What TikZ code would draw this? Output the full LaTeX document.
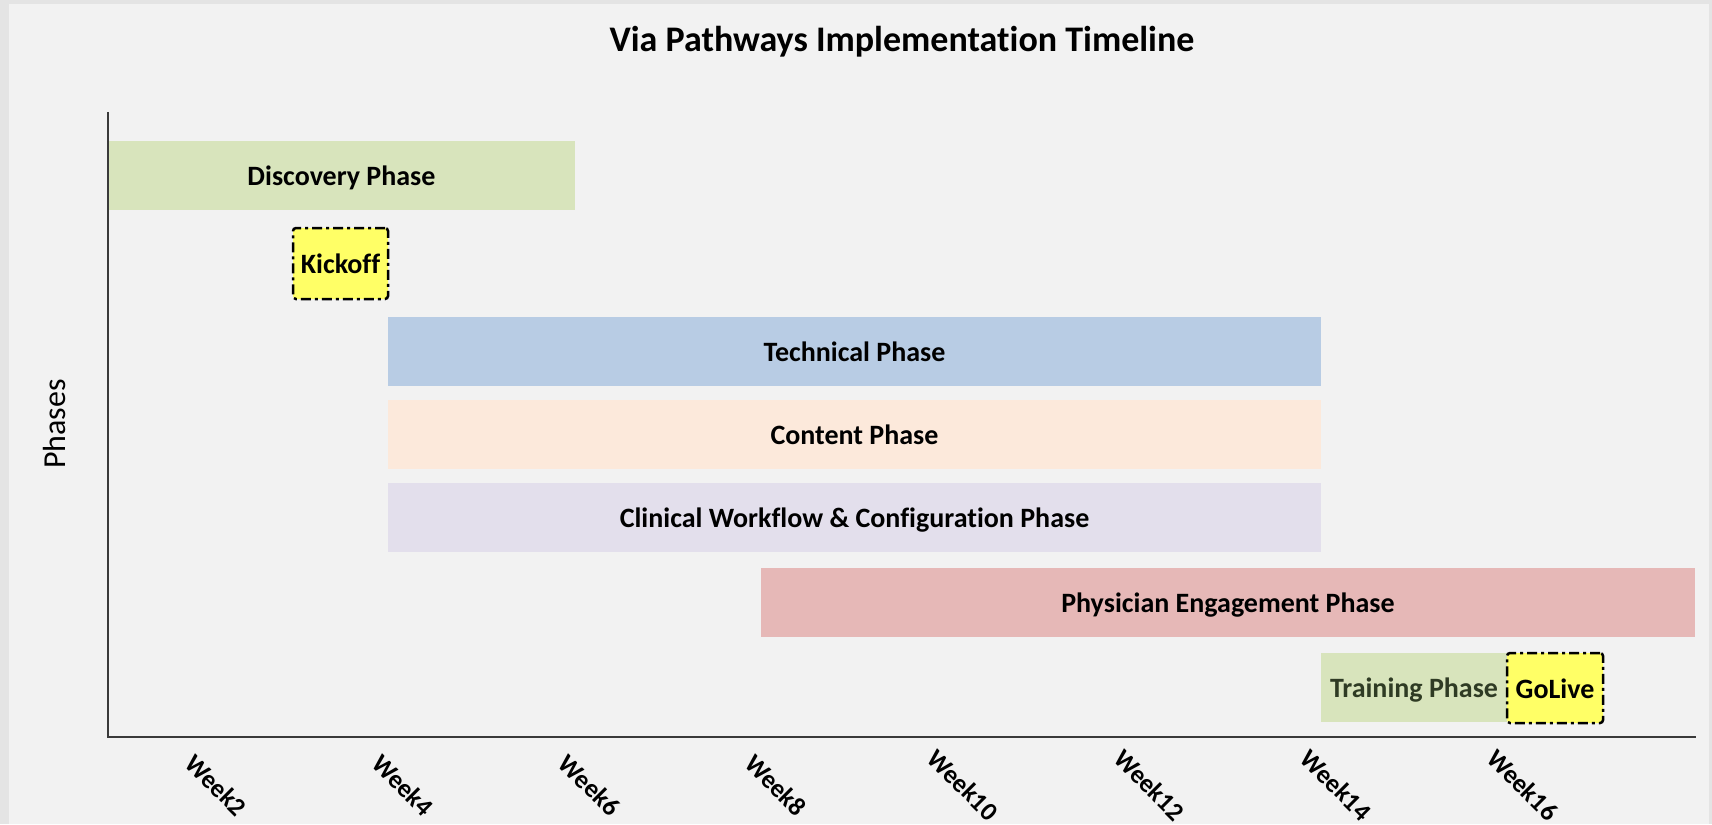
\documentclass[tikz,border=0pt]{standalone}
\usepackage{fontspec}
\setmainfont{Carlito}[Ligatures=NoCommon]
\definecolor{bgouter}{HTML}{E4E4E4}
\definecolor{bginner}{HTML}{F2F2F2}
\definecolor{cdisc}{HTML}{D8E4BC}
\definecolor{ctech}{HTML}{B8CCE4}
\definecolor{ccont}{HTML}{FCE9DB}
\definecolor{cclin}{HTML}{E3DFEC}
\definecolor{cphys}{HTML}{E6B8B7}
\definecolor{cyel}{HTML}{FFFF66}
\definecolor{ctraintext}{HTML}{2F3B24}
\definecolor{caxis}{HTML}{3A3A3A}
\begin{document}
\begin{tikzpicture}[x=1pt,y=-1pt,
  bar/.style={rectangle, inner sep=0pt, minimum height=69pt, text height=20pt, text depth=0pt,
     font=\fontsize{28}{30}\selectfont\bfseries, text=black},
  milestone/.style={rectangle, inner sep=0pt, draw=black, line width=2.5pt, rounded corners=3pt, fill=cyel,
     text height=20pt, text depth=0pt,
     dash pattern=on 10pt off 4pt on 3pt off 4pt, font=\fontsize{28}{30}\selectfont\bfseries},
  weeklbl/.style={rotate=-45, font=\fontsize{26}{28}\selectfont\bfseries, inner sep=0pt},
  axisline/.style={draw=caxis, line width=2pt}
]
\useasboundingbox (0,0) rectangle (1712,824);
\fill[bgouter] (0,0) rectangle (1712,824);
\fill[bginner] (9,4) rectangle (1709,824);

% title
\node[font=\fontsize{36}{40}\selectfont\bfseries] (title) at (902,42) {Via Pathways Implementation Timeline};
% y label
\node[rotate=90, font=\fontsize{32}{36}\selectfont] (ylab) at (55,424) {Phases};

% bars
\node[bar, fill=cdisc, minimum width=466pt] (disc) at (341.5,175) {Discovery Phase};
\node[milestone, minimum width=95pt, minimum height=71pt] (kick) at (340.5,263.5) {Kickoff};
\node[bar, fill=ctech, minimum width=933pt] (tech) at (854.5,351.5) {Technical Phase};
\node[bar, fill=ccont, minimum width=933pt] (cont) at (854.5,434.5) {Content Phase};
\node[bar, fill=cclin, minimum width=933pt] (clin) at (854.5,517.5) {Clinical Workflow \& Configuration Phase};
\node[bar, fill=cphys, minimum width=934pt] (phys) at (1228,602.5) {Physician Engagement Phase};
\node[bar, fill=cdisc, minimum width=186pt, text=ctraintext] (train) at (1414,687.5) {Training Phase};
\node[milestone, minimum width=96pt, minimum height=70pt] (golive) at (1555,688) {GoLive};

% axes
\coordinate (ytop) at (108,112);
\coordinate (origin) at (108,737);
\coordinate (xend) at (1696,737);
\draw[axisline] (ytop) -- (origin) -- (xend);

% week labels
\foreach \w/\x in {2/201.3,4/388,6/574.6,8/761,10/948,12/1134.6,14/1321,16/1507.7}{
  \node[weeklbl] (wk\w) at (\x+15,785) {Week\w};
}
\end{tikzpicture}
\end{document}
